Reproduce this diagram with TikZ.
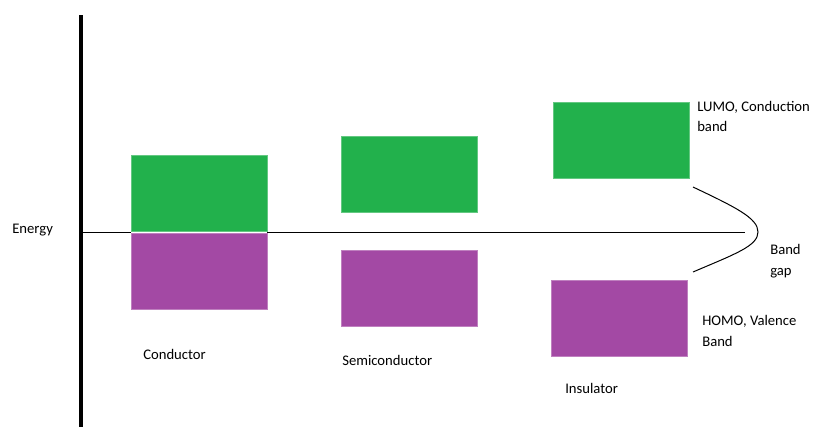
\documentclass[tikz,border=0pt]{standalone}
\usepackage{fontspec}
\setmainfont{Carlito}
\usetikzlibrary{positioning}
\definecolor{lumo}{HTML}{22B14C}
\definecolor{homo}{HTML}{A349A4}

\begin{document}
\begin{tikzpicture}[x=0.75pt, y=-0.75pt, every node/.style={font=\fontsize{11}{15.5}\selectfont}]
    \tikzstyle{band} = [rectangle, minimum width=102pt, minimum height=57pt, inner sep=0pt, line width=0.6pt]
    \tikzstyle{cband} = [band, fill=lumo, draw=lumo!70!white]
    \tikzstyle{vband} = [band, fill=homo, draw=homo!70!white]
    \tikzstyle{lbl} = [anchor=west, inner sep=0pt, align=left]

    \useasboundingbox (0,0) rectangle (830,429);

    % energy axis
    \coordinate (axis-top) at (81,15);
    \coordinate (axis-bot) at (81,427);
    \coordinate (level-start) at (81,232);
    \coordinate (level-end) at (745,232);
    \draw [line width=2.3pt] (axis-top) -- (axis-bot);
    \node [lbl] (energy) at (12,230) {Energy};

    % conductor: bands touch
    \node [cband] (cond-c) at (199,193) {};
    \node [vband] (cond-v) at (199,271) {};
    % semiconductor: small gap
    \node [cband] (semi-c) at (409,174.5) {};
    \node [vband] (semi-v) at (409,288.5) {};
    % insulator: large gap
    \node [cband] (ins-c) at (621,140.5) {};
    \node [vband] (ins-v) at (619,318.5) {};

    % reference level, broken where the conductor bands meet
    \draw [line width=0.75pt] (level-start) -- (level-start -| cond-v.west);
    \draw [line width=0.75pt] (level-start -| cond-v.east) -- (level-end);

    \node [lbl] (cond) at (143,354) {Conductor};
    \node [lbl] (semi) at (342,360) {Semiconductor};
    \node [lbl] (ins) at (565,388) {Insulator};

    % gap brace
    \coordinate (gap-top) at (693,187);
    \coordinate (gap-tip) at (758,232);
    \coordinate (gap-bot) at (693,272);
    \draw [line width=0.75pt] (gap-top) .. controls (735,207) and (758,218) .. (gap-tip)
        .. controls (758,246) and (735,254) .. (gap-bot);

    \node [lbl] (lumo-lbl) at (697,116.5) {LUMO, Conduction\\band};
    \node [lbl] (gap-lbl) at (770,261) {Band\\gap};
    \node [lbl] (homo-lbl) at (702,331) {HOMO, Valence\\Band};
\end{tikzpicture}
\end{document}
